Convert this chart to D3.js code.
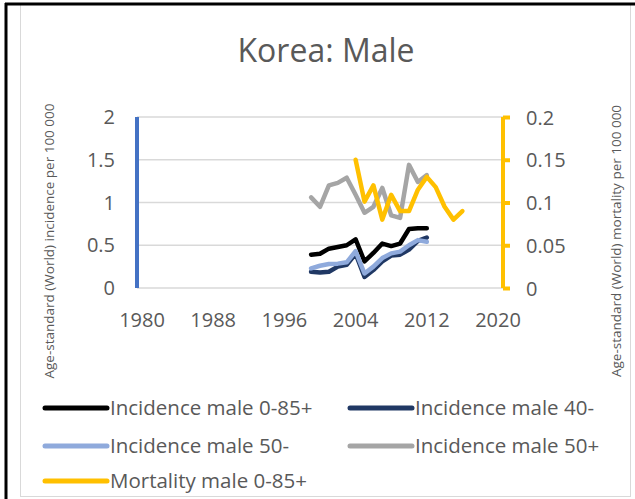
<!DOCTYPE html>
<html>
<head>
<meta charset="utf-8">
<script src="https://cdn.jsdelivr.net/npm/d3@7"></script>
<style>
  body { margin: 0; background: #fff; }
  text { font-family: "Open Sans", sans-serif; fill: #595959; }
</style>
</head>
<body>
<svg id="chart" width="635" height="499"></svg>
<script>
// values
const incYears  = [1999, 2000, 2001, 2002, 2003, 2004, 2005, 2006, 2007, 2008, 2009, 2010, 2011, 2012];
const inc0_85   = [0.39, 0.40, 0.46, 0.48, 0.50, 0.57, 0.31, 0.41, 0.52, 0.49, 0.52, 0.69, 0.70, 0.70];
const inc40     = [0.19, 0.18, 0.19, 0.25, 0.27, 0.40, 0.13, 0.21, 0.31, 0.38, 0.39, 0.45, 0.55, 0.59];
const inc50minus= [0.23, 0.26, 0.28, 0.285, 0.30, 0.43, 0.17, 0.25, 0.35, 0.405, 0.425, 0.50, 0.56, 0.54];
const inc50plus = [1.06, 0.95, 1.20, 1.23, 1.29, 1.09, 0.88, 0.95, 1.17, 0.85, 0.82, 1.44, 1.24, 1.32];
const mortYears = [2004, 2005, 2006, 2007, 2008, 2009, 2010, 2011, 2012, 2013, 2014, 2015, 2016];
const mort0_85  = [0.150, 0.101, 0.120, 0.080, 0.109, 0.090, 0.090, 0.115, 0.130, 0.118, 0.095, 0.080, 0.090];

const xTicks = [1980, 1988, 1996, 2004, 2012, 2020];
const yTicks = [0, 0.5, 1, 1.5, 2];
const y2Ticks = [0, 0.05, 0.1, 0.15, 0.2];
const y2Labels = ["0", "0.05", "0.1", "0.15", "0.2"];

const series = [
  { name: "Incidence male 0-85+", color: "#000000", x: incYears, y: inc0_85, axis: 1 },
  { name: "Incidence male 40-",   color: "#203864", x: incYears, y: inc40, axis: 1 },
  { name: "Incidence male 50-",   color: "#8faadc", x: incYears, y: inc50minus, axis: 1 },
  { name: "Incidence male 50+",   color: "#a5a5a5", x: incYears, y: inc50plus, axis: 1 },
  { name: "Mortality male 0-85+", color: "#ffc000", x: mortYears, y: mort0_85, axis: 2 }
];

const svg = d3.select("#chart");

// outer frame bits
svg.append("rect").attr("x", 20.5).attr("y", 4.5).attr("width", 610).attr("height", 492)
  .attr("fill", "#fff").attr("stroke", "#d9d9d9").attr("stroke-width", 1);
svg.append("line").attr("x1", 6).attr("x2", 6).attr("y1", 3).attr("y2", 499)
  .attr("stroke", "#000").attr("stroke-width", 3);
svg.append("line").attr("x1", 5).attr("x2", 635).attr("y1", 4).attr("y2", 4)
  .attr("stroke", "#000").attr("stroke-width", 3);

const plotLeft = 137, plotRight = 503;
const x = d3.scaleLinear().domain([1980, 2020]).range([142, 498]);
const y = d3.scaleLinear().domain([0, 2]).range([288, 117]);
const y2 = d3.scaleLinear().domain([0, 0.2]).range([288, 117]);

// title
svg.append("text").attr("x", 326).attr("y", 62).attr("text-anchor", "middle")
  .style("font-size", "32px").text("Korea: Male");

// gridlines
svg.append("g").selectAll("line").data(yTicks).join("line")
  .attr("x1", plotLeft).attr("x2", plotRight)
  .attr("y1", d => y(d)).attr("y2", d => y(d))
  .attr("stroke", "#d9d9d9").attr("stroke-width", 1.5);

// left axis
svg.append("line").attr("x1", plotLeft).attr("x2", plotLeft)
  .attr("y1", y(0)).attr("y2", y(2)).attr("stroke", "#4472c4").attr("stroke-width", 4);
svg.append("g").selectAll("text").data(yTicks).join("text")
  .attr("x", 115).attr("y", d => y(d)).attr("dy", "0.36em").attr("text-anchor", "end")
  .style("font-size", "20px").text(d => d);

// right axis
const ax2 = svg.append("g").attr("transform", `translate(${plotRight},0)`)
  .call(d3.axisRight(y2).tickValues(y2Ticks).tickSize(7).tickFormat((d, i) => y2Labels[i]));
ax2.select(".domain").attr("stroke", "#ffc000").attr("stroke-width", 4).attr("d", `M0,${y2(0)}V${y2(0.2)}`);
ax2.selectAll(".tick line").attr("stroke", "#ffc000").attr("stroke-width", 4);
ax2.selectAll(".tick text").attr("x", 23).attr("dy", "0.36em").attr("fill", null)
  .style("font-size", "20px").style("font-family", null);

// x axis labels
svg.append("g").selectAll("text").data(xTicks).join("text")
  .attr("x", d => x(d)).attr("y", 327).attr("text-anchor", "middle")
  .style("font-size", "20px").text(d => d);

// axis titles
svg.append("text").attr("transform", "translate(54,241) rotate(-90)").attr("text-anchor", "middle")
  .style("font-size", "13.5px").text("Age-standard (World) incidence per 100 000");
svg.append("text").attr("transform", "translate(621,241) rotate(-90)").attr("text-anchor", "middle")
  .style("font-size", "13.5px").text("Age-standard (World) mortality per 100 000");

// lines
series.forEach(s => {
  const ys = s.axis === 1 ? y : y2;
  const line = d3.line().x((d, i) => x(s.x[i])).y(d => ys(d));
  svg.append("path").datum(s.y).attr("d", line)
    .attr("fill", "none").attr("stroke", s.color).attr("stroke-width", 4.5)
    .attr("stroke-linejoin", "round").attr("stroke-linecap", "round");
});

// legend
const legendPos = [[45, 408], [350, 408], [45, 446], [350, 446], [45, 481]];
const lg = svg.append("g").selectAll("g").data(series).join("g")
  .attr("transform", (d, i) => `translate(${legendPos[i][0]},${legendPos[i][1]})`);
lg.append("line").attr("x1", 0).attr("x2", 62).attr("y1", 0).attr("y2", 0)
  .attr("stroke", d => d.color).attr("stroke-width", 5).attr("stroke-linecap", "round");
lg.append("text").attr("x", 65).attr("dy", "0.36em").style("font-size", "20.5px").text(d => d.name);
</script>
</body>
</html>
